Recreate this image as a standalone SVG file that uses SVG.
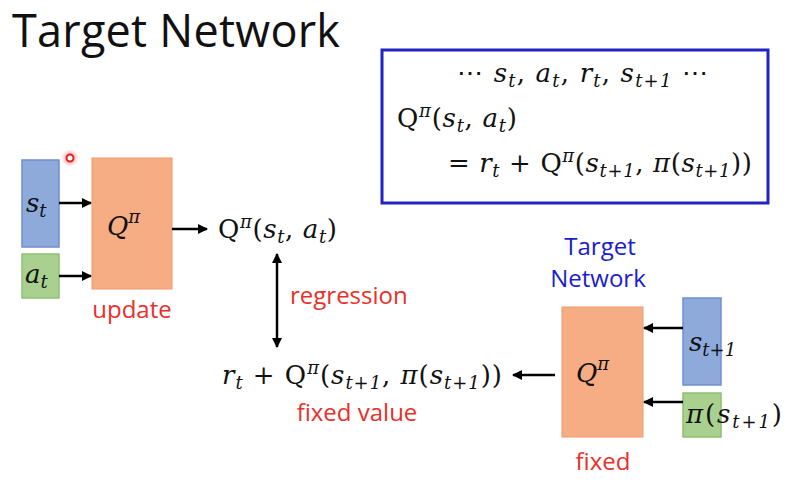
<svg xmlns="http://www.w3.org/2000/svg" width="794" height="484" viewBox="0 0 794 484">
<defs>
<style>
.title{font-family:"Open Sans","Liberation Sans",sans-serif;font-size:45px;fill:#111}
.m{font-family:"DejaVu Serif","Liberation Serif",serif;font-size:26px;fill:#111}
.i{font-style:italic}
.s{font-size:18px;font-style:italic}
.lbl{font-family:"Open Sans","Liberation Sans",sans-serif;font-size:24px}
.red{fill:#e8302a}
.blue{fill:#1c1ccc}
.sbox{fill:#8eaadb;stroke:#6f8fcf;stroke-width:1.5}
.gbox{fill:#a9d08e;stroke:#8fbf72;stroke-width:1.5}
.obox{fill:#f7ad84;stroke:#f19a6a;stroke-width:1}
.con{stroke:#000;stroke-width:2.5;fill:none}
</style>
<marker id="ah" viewBox="0 0 10 10" refX="9" refY="5" markerWidth="4" markerHeight="4" orient="auto-start-reverse">
<path d="M0,0 L10,5 L0,10 z" fill="#000"/>
</marker>
<radialGradient id="glow"><stop offset="0" stop-color="#ff4040" stop-opacity="0.6"/><stop offset="1" stop-color="#ff4040" stop-opacity="0"/></radialGradient>
</defs>
<rect width="794" height="484" fill="#fff"/>
<text class="title" x="12" y="47" textLength="328">Target Network</text>

<g id="formula-box">
<rect x="382" y="50" width="386" height="153" fill="none" stroke="#2323c3" stroke-width="3"/>
<text class="m" x="457" y="82" textLength="251">⋯ <tspan class="i">s</tspan><tspan class="s" dy="5">t</tspan><tspan dy="-5">, </tspan><tspan class="i">a</tspan><tspan class="s" dy="5">t</tspan><tspan dy="-5">, </tspan><tspan class="i">r</tspan><tspan class="s" dy="5">t</tspan><tspan dy="-5">, </tspan><tspan class="i">s</tspan><tspan class="s" dy="5">t</tspan><tspan class="s" font-style="normal">+1</tspan><tspan dy="-5"> ⋯</tspan></text>
<text class="m" x="397" y="127" textLength="120">Q<tspan class="s" dy="-10">π</tspan><tspan dy="10">(</tspan><tspan class="i">s</tspan><tspan class="s" dy="5">t</tspan><tspan dy="-5">, </tspan><tspan class="i">a</tspan><tspan class="s" dy="5">t</tspan><tspan dy="-5">)</tspan></text>
<text class="m" x="448" y="172" textLength="304">= <tspan class="i">r</tspan><tspan class="s" dy="5">t</tspan><tspan dy="-5"> + Q</tspan><tspan class="s" dy="-10">π</tspan><tspan dy="10">(</tspan><tspan class="i">s</tspan><tspan class="s" dy="5">t</tspan><tspan class="s" font-style="normal">+1</tspan><tspan dy="-5">, </tspan><tspan class="i">π</tspan>(<tspan class="i">s</tspan><tspan class="s" dy="5">t</tspan><tspan class="s" font-style="normal">+1</tspan><tspan dy="-5">))</tspan></text>
</g>

<g id="st">
<rect class="sbox" x="22" y="160" width="37" height="87"/>
<text class="m" x="26" y="212"><tspan class="i">s</tspan><tspan class="s" dy="5">t</tspan></text>
</g>
<g id="at">
<rect class="gbox" x="22" y="254" width="37" height="44"/>
<text class="m" x="25" y="283"><tspan class="i">a</tspan><tspan class="s" dy="5">t</tspan></text>
</g>
<g id="pointer">
<circle cx="70" cy="158" r="9" fill="url(#glow)"/>
<circle cx="70" cy="158" r="3.5" fill="#fff" stroke="#e82020" stroke-width="2"/>
</g>
<g id="q-update">
<rect class="obox" x="92" y="158" width="80" height="131"/>
<text class="m i" x="107" y="235" font-size="28">Q<tspan class="s" font-size="21" dy="-12">π</tspan></text>
<text class="lbl red" x="132" y="318" text-anchor="middle">update</text>
</g>
<g id="q-out">
<text class="m" x="218" y="238" textLength="119">Q<tspan class="s" dy="-10">π</tspan><tspan dy="10">(</tspan><tspan class="i">s</tspan><tspan class="s" dy="5">t</tspan><tspan dy="-5">, </tspan><tspan class="i">a</tspan><tspan class="s" dy="5">t</tspan><tspan dy="-5">)</tspan></text>
</g>
<g id="target-value">
<text class="m" x="222" y="384" textLength="280"><tspan class="i">r</tspan><tspan class="s" dy="5">t</tspan><tspan dy="-5"> + Q</tspan><tspan class="s" dy="-10">π</tspan><tspan dy="10">(</tspan><tspan class="i">s</tspan><tspan class="s" dy="5">t</tspan><tspan class="s" font-style="normal">+1</tspan><tspan dy="-5">, </tspan><tspan class="i">π</tspan>(<tspan class="i">s</tspan><tspan class="s" dy="5">t</tspan><tspan class="s" font-style="normal">+1</tspan><tspan dy="-5">))</tspan></text>
<text class="lbl red" x="357" y="421" text-anchor="middle">fixed value</text>
</g>
<g id="q-fixed">
<text class="lbl blue" x="600" y="255" text-anchor="middle">Target</text>
<text class="lbl blue" x="598" y="287" text-anchor="middle">Network</text>
<rect class="obox" x="562" y="307" width="81" height="130"/>
<text class="m i" x="576" y="382" font-size="28">Q<tspan class="s" font-size="21" dy="-12">π</tspan></text>
<text class="lbl red" x="603" y="470" text-anchor="middle">fixed</text>
</g>
<g id="st1">
<rect class="sbox" x="683" y="298" width="38" height="87"/>
<text class="m" x="689" y="351"><tspan class="i">s</tspan><tspan class="s" dy="5">t</tspan><tspan class="s" font-style="normal">+1</tspan></text>
</g>
<g id="pi-st1">
<rect class="gbox" x="683" y="393" width="38" height="44"/>
<text class="m" x="686" y="423" textLength="96"><tspan class="i">π</tspan>(<tspan class="i">s</tspan><tspan class="s" dy="5">t</tspan><tspan class="s" font-style="normal">+1</tspan><tspan dy="-5">)</tspan></text>
</g>

<g id="connectors">
<line class="con" x1="59" y1="203" x2="91" y2="203" marker-end="url(#ah)"/>
<line class="con" x1="59" y1="276" x2="91" y2="276" marker-end="url(#ah)"/>
<line class="con" x1="172" y1="229" x2="207" y2="229" marker-end="url(#ah)"/>
<line class="con" x1="277" y1="254" x2="277" y2="347" marker-start="url(#ah)" marker-end="url(#ah)"/>
<text class="lbl red" x="290" y="304">regression</text>
<line class="con" x1="555" y1="375" x2="513" y2="375" marker-end="url(#ah)"/>
<line class="con" x1="683" y1="328" x2="644" y2="328" marker-end="url(#ah)"/>
<line class="con" x1="683" y1="402" x2="644" y2="402" marker-end="url(#ah)"/>
</g>
</svg>
